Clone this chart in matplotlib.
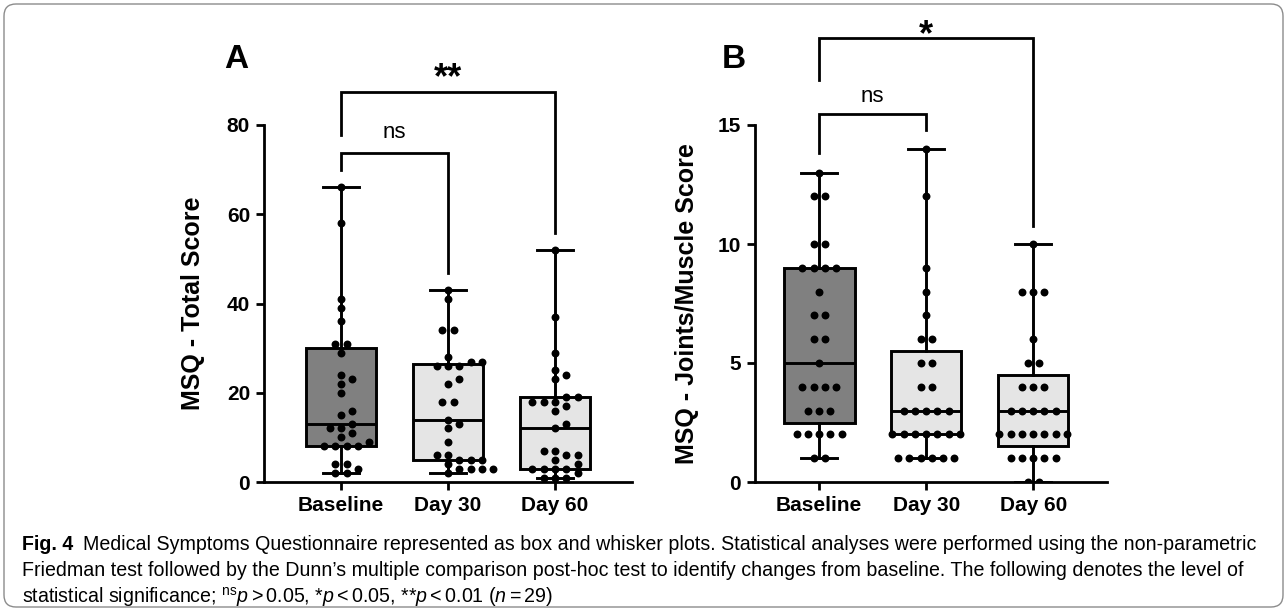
import numpy as np
import matplotlib
matplotlib.use("Agg")
import matplotlib.pyplot as plt
from matplotlib import font_manager
from matplotlib.patches import FancyBboxPatch
from matplotlib.transforms import IdentityTransform

GROUPS = ["Baseline", "Day 30", "Day 60"]

# MSQ total score, n = 29 per visit
total_baseline = [66, 58, 41, 39, 36, 31, 31, 29, 24, 23, 22, 20, 16, 15, 13,
                  12, 12, 11, 10, 9, 8, 8, 8, 8, 4, 4, 3, 2, 2]
total_day30 = [43, 41, 34, 34, 28, 27, 27, 26, 26, 26, 23, 22, 18, 18, 14,
               13, 12, 9, 6, 6, 5, 5, 5, 4, 3, 3, 3, 3, 2]
total_day60 = [52, 37, 29, 25, 24, 23, 19, 19, 18, 18, 18, 17, 16, 13, 12,
               7, 7, 6, 6, 5, 4, 3, 3, 3, 3, 2, 1, 1, 1]

# MSQ joints/muscle score
joint_baseline = [13, 12, 12, 10, 10, 9, 9, 9, 9, 8, 7, 7, 6, 6, 5,
                  4, 4, 4, 4, 3, 3, 3, 2, 2, 2, 2, 2, 1, 1]
joint_day30 = [14, 12, 9, 8, 7, 6, 6, 5, 5, 4, 4, 3, 3, 3, 3,
               3, 2, 2, 2, 2, 2, 2, 2, 1, 1, 1, 1, 1, 1]
joint_day60 = [10, 8, 8, 8, 6, 5, 5, 4, 4, 4, 3, 3, 3, 3, 3,
               2, 2, 2, 2, 2, 2, 2, 1, 1, 1, 1, 1, 0, 0]

BOX_COLORS = ["#808080", "#e5e5e5", "#e5e5e5"]
W, H = 1287, 611

plt.rcParams["font.family"] = ["Liberation Sans", "DejaVu Sans"]


def fx(px):
    return px / W


def fy(py):
    return 1 - py / H


def swarm_offsets(values, px_x, px_y, step=11.3, min_dist=7.2):
    """Spread equal/close values sideways like Prism's scatter dots."""
    vals = np.asarray(values, float)
    offs = np.zeros(len(vals))
    placed = []
    cands = [0.0]
    for k in range(1, 30):
        cands += [k * step / 2, -k * step / 2]
    for v in np.unique(vals):
        idx = np.where(vals == v)[0]
        base = (np.arange(len(idx)) - (len(idx) - 1) / 2) * step
        y = v * px_y
        for c in cands:
            xs = base + c
            if all(np.hypot(x - a, y - b) >= min_dist for x in xs for a, b in placed):
                break
        for i, x in zip(idx, xs):
            offs[i] = x / px_x
            placed.append((x, y))
    return offs


def panel(rect, data, ylim, yticks, ylabel, sigs, xlim):
    ax = fig.add_axes(rect)
    ax.set_xlim(*xlim)
    ax.set_ylim(*ylim)
    stats = []
    for d in data:
        q1, med, q3 = np.percentile(d, [25, 50, 75], method="weibull")
        stats.append(dict(med=med, q1=q1, q3=q3, whislo=min(d), whishi=max(d), fliers=[]))
    bp = ax.bxp(stats, positions=range(len(data)), widths=0.66, capwidths=0.34,
                patch_artist=True, showfliers=False,
                boxprops=dict(lw=2.1, edgecolor="black"),
                medianprops=dict(lw=2.1, color="black"),
                whiskerprops=dict(lw=2.1, color="black"),
                capprops=dict(lw=2.1, color="black"))
    for patch, c in zip(bp["boxes"], BOX_COLORS):
        patch.set_facecolor(c)

    px_x = rect[2] * W / (xlim[1] - xlim[0])
    px_y = rect[3] * H / (ylim[1] - ylim[0])
    for i, d in enumerate(data):
        off = swarm_offsets(d, px_x, px_y)
        ax.plot(i + off, d, "o", color="black", ms=5.7, mew=0, zorder=5)

    ax.spines[["top", "right"]].set_visible(False)
    for s in ("left", "bottom"):
        ax.spines[s].set_linewidth(2.0)
    ax.set_yticks(yticks)
    ax.set_xticks(range(len(GROUPS)))
    ax.set_xticklabels(GROUPS)
    ax.tick_params(length=6, width=2.0, labelsize=15, pad=4)
    for lab in ax.get_xticklabels() + ax.get_yticklabels():
        lab.set_fontweight("bold")
    ax.set_ylabel(ylabel, fontsize=18, fontweight="bold")
    ax.yaxis.set_label_coords(-0.16, 0.5)

    for (a, b, lab, top, ya, yb, ty) in sigs:
        ax.plot([a, a, b, b], [ya, top, top, yb], color="black", lw=2.0,
                clip_on=False, solid_joinstyle="miter")
        if lab == "ns":
            ax.text((a + b) / 2, ty, lab, ha="center", va="center", fontsize=16)
        else:
            ax.text((a + b) / 2, ty, lab, ha="center", va="center", fontsize=26,
                    fontweight="bold")
    return ax


fig = plt.figure(figsize=(W / 100, H / 100), dpi=100)

# brackets: (group a, group b, label, top, left leg end, right leg end, label y)
brA = [(0, 1, "ns", 73.8, 70.0, 46.9, 78.3), (0, 2, "**", 87.4, 77.8, 55.9, 90.3)]
brB = [(0, 1, "ns", 15.46, 13.82, 14.79, 16.2), (0, 2, "*", 18.66, 16.9, 10.76, 18.75)]

panel([fx(264), fy(482), (632 - 264) / W, (482 - 125) / H],
      [total_baseline, total_day30, total_day60], (0, 80), [0, 20, 40, 60, 80],
      "MSQ - Total Score", brA, (-0.72, 2.72))
panel([fx(755), fy(482), (1107 - 755) / W, (482 - 125) / H],
      [joint_baseline, joint_day30, joint_day60], (0, 15), [0, 5, 10, 15],
      "MSQ - Joints/Muscle Score", brB, (-0.6, 2.69))

fig.text(fx(236), fy(60), "A", fontsize=24, fontweight="bold", ha="center", va="center")
fig.text(fx(734), fy(60), "B", fontsize=24, fontweight="bold", ha="center", va="center")

# caption
names = {f.name for f in font_manager.fontManager.ttflist}
cap_font = "Liberation Sans Narrow" if "Liberation Sans Narrow" in names else "Liberation Sans"
plt.rcParams["mathtext.fontset"] = "custom"
plt.rcParams["mathtext.rm"] = cap_font
plt.rcParams["mathtext.it"] = cap_font + ":italic"

lines = [
    "Medical Symptoms Questionnaire represented as box and whisker plots. Statistical "
    "analyses were performed using the non-parametric",
    "Friedman test followed by the Dunn\u2019s multiple comparison post-hoc test to identify "
    "changes from baseline. The following denotes the level of",
    r"statistical significance; $^{\mathrm{ns}}\mathit{p}>0.05$, *$\mathit{p}<0.05$, "
    r"**$\mathit{p}<0.01$ ($\mathit{n}=29$)",
]
renderer = fig.canvas.get_renderer()
probe = fig.text(0, 0, lines[0], family=cap_font, fontsize=12)
wid = probe.get_window_extent(renderer).width
probe.remove()
cap_size = 12 * (1255 - 83) / wid

fig.text(fx(22), fy(545), "Fig. 4", family=cap_font, fontweight="bold",
         fontsize=cap_size, ha="left", va="center")
fig.text(fx(83), fy(545), lines[0], family=cap_font, fontsize=cap_size, ha="left", va="center")
fig.text(fx(22), fy(571), lines[1], family=cap_font, fontsize=cap_size, ha="left", va="center")
fig.text(fx(22), fy(597), lines[2], family=cap_font, fontsize=cap_size, ha="left", va="center")

frame = FancyBboxPatch((4, 4), W - 8, H - 8, boxstyle="round,pad=0,rounding_size=12",
                       transform=IdentityTransform(), fill=False, ec="#8c8c8c", lw=1)
fig.add_artist(frame)

fig.savefig("out.png", dpi=100)
